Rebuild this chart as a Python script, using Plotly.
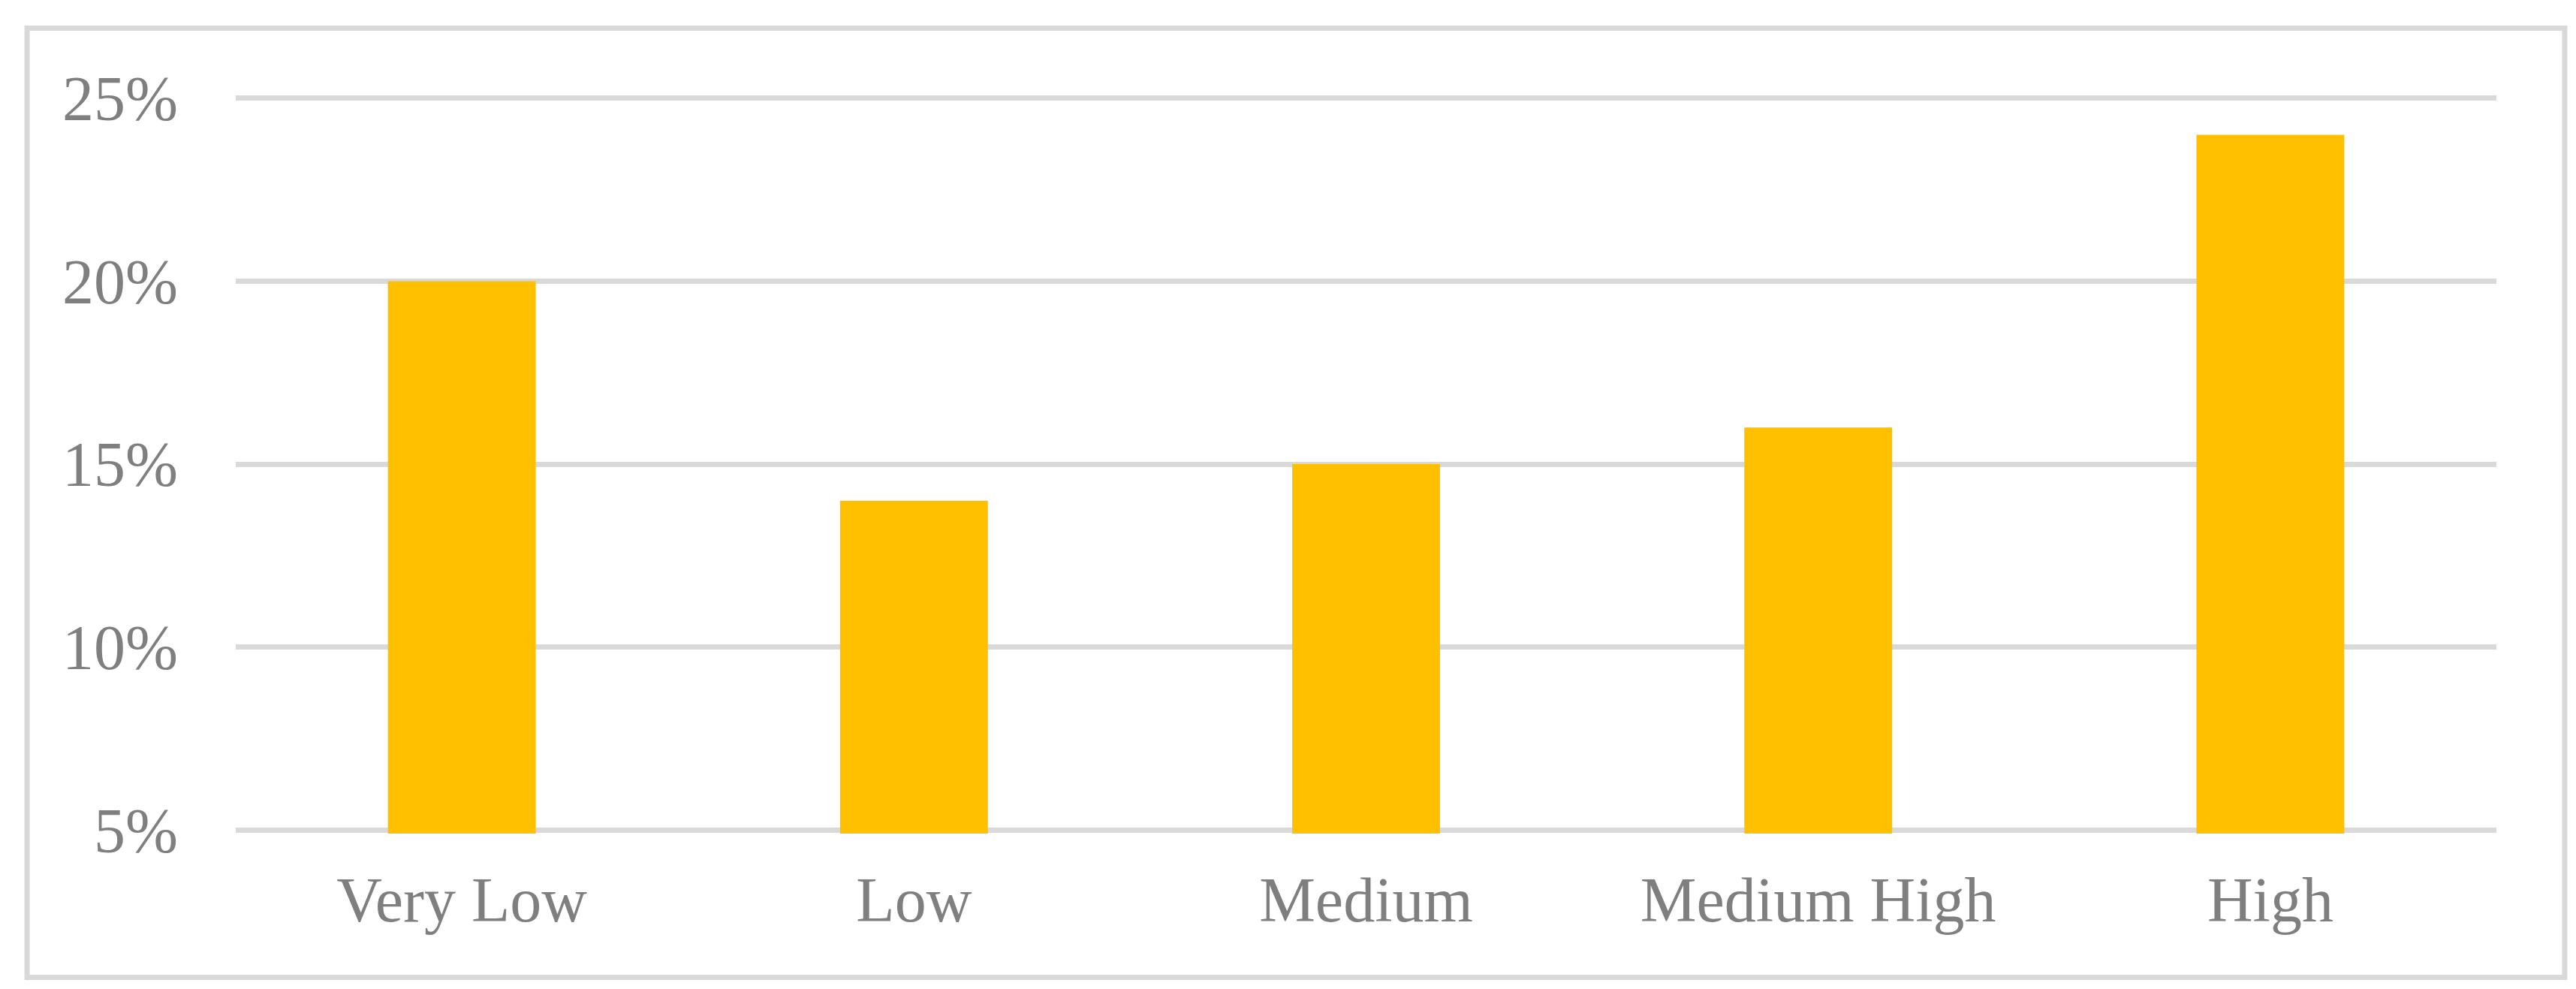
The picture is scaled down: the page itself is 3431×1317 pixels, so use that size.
import plotly.graph_objects as go

# категории и доли (%)
categories = ['Very Low', 'Low', 'Medium', 'Medium High', 'High']
shares = [20, 14, 15, 16, 24]

# подписи оси Y
y_ticks = [5, 10, 15, 20, 25]
y_labels = ['5%', '10%', '15%', '20%', '25%']

font_family = 'Liberation Serif, Times New Roman, serif'
text_color = '#7f7f7f'
grid_color = '#d9d9d9'

fig = go.Figure()

# столбцы
fig.add_trace(go.Bar(x=categories, y=shares, marker=dict(color='#ffc000', line=dict(width=0)),
                     width=0.327, showlegend=False))

# рамка вокруг всего графика
fig.add_shape(type='rect', xref='paper', yref='paper',
              x0=-0.0923, x1=1.0302, y0=-0.1946, y1=1.0899,
              line=dict(color=grid_color, width=7), layer='below')

# небольшой запас по Y, чтобы линии сетки 5% и 25% были видны
fig.update_layout(width=3431, height=1317,
                  margin=dict(l=306, r=114, t=118, b=215),
                  paper_bgcolor='white', plot_bgcolor='white',
                  font=dict(family=font_family, size=84, color=text_color),
                  xaxis=dict(showgrid=False, showline=False, zeroline=False, ticks='',
                             ticklabelstandoff=32),
                  yaxis=dict(range=[4.9, 25.1], tickvals=y_ticks, ticktext=y_labels,
                             showgrid=True, gridcolor=grid_color, gridwidth=7,
                             zeroline=False, showline=False, ticks='',
                             ticklabelstandoff=76),
                  showlegend=False)

fig.write_html('out.html')
